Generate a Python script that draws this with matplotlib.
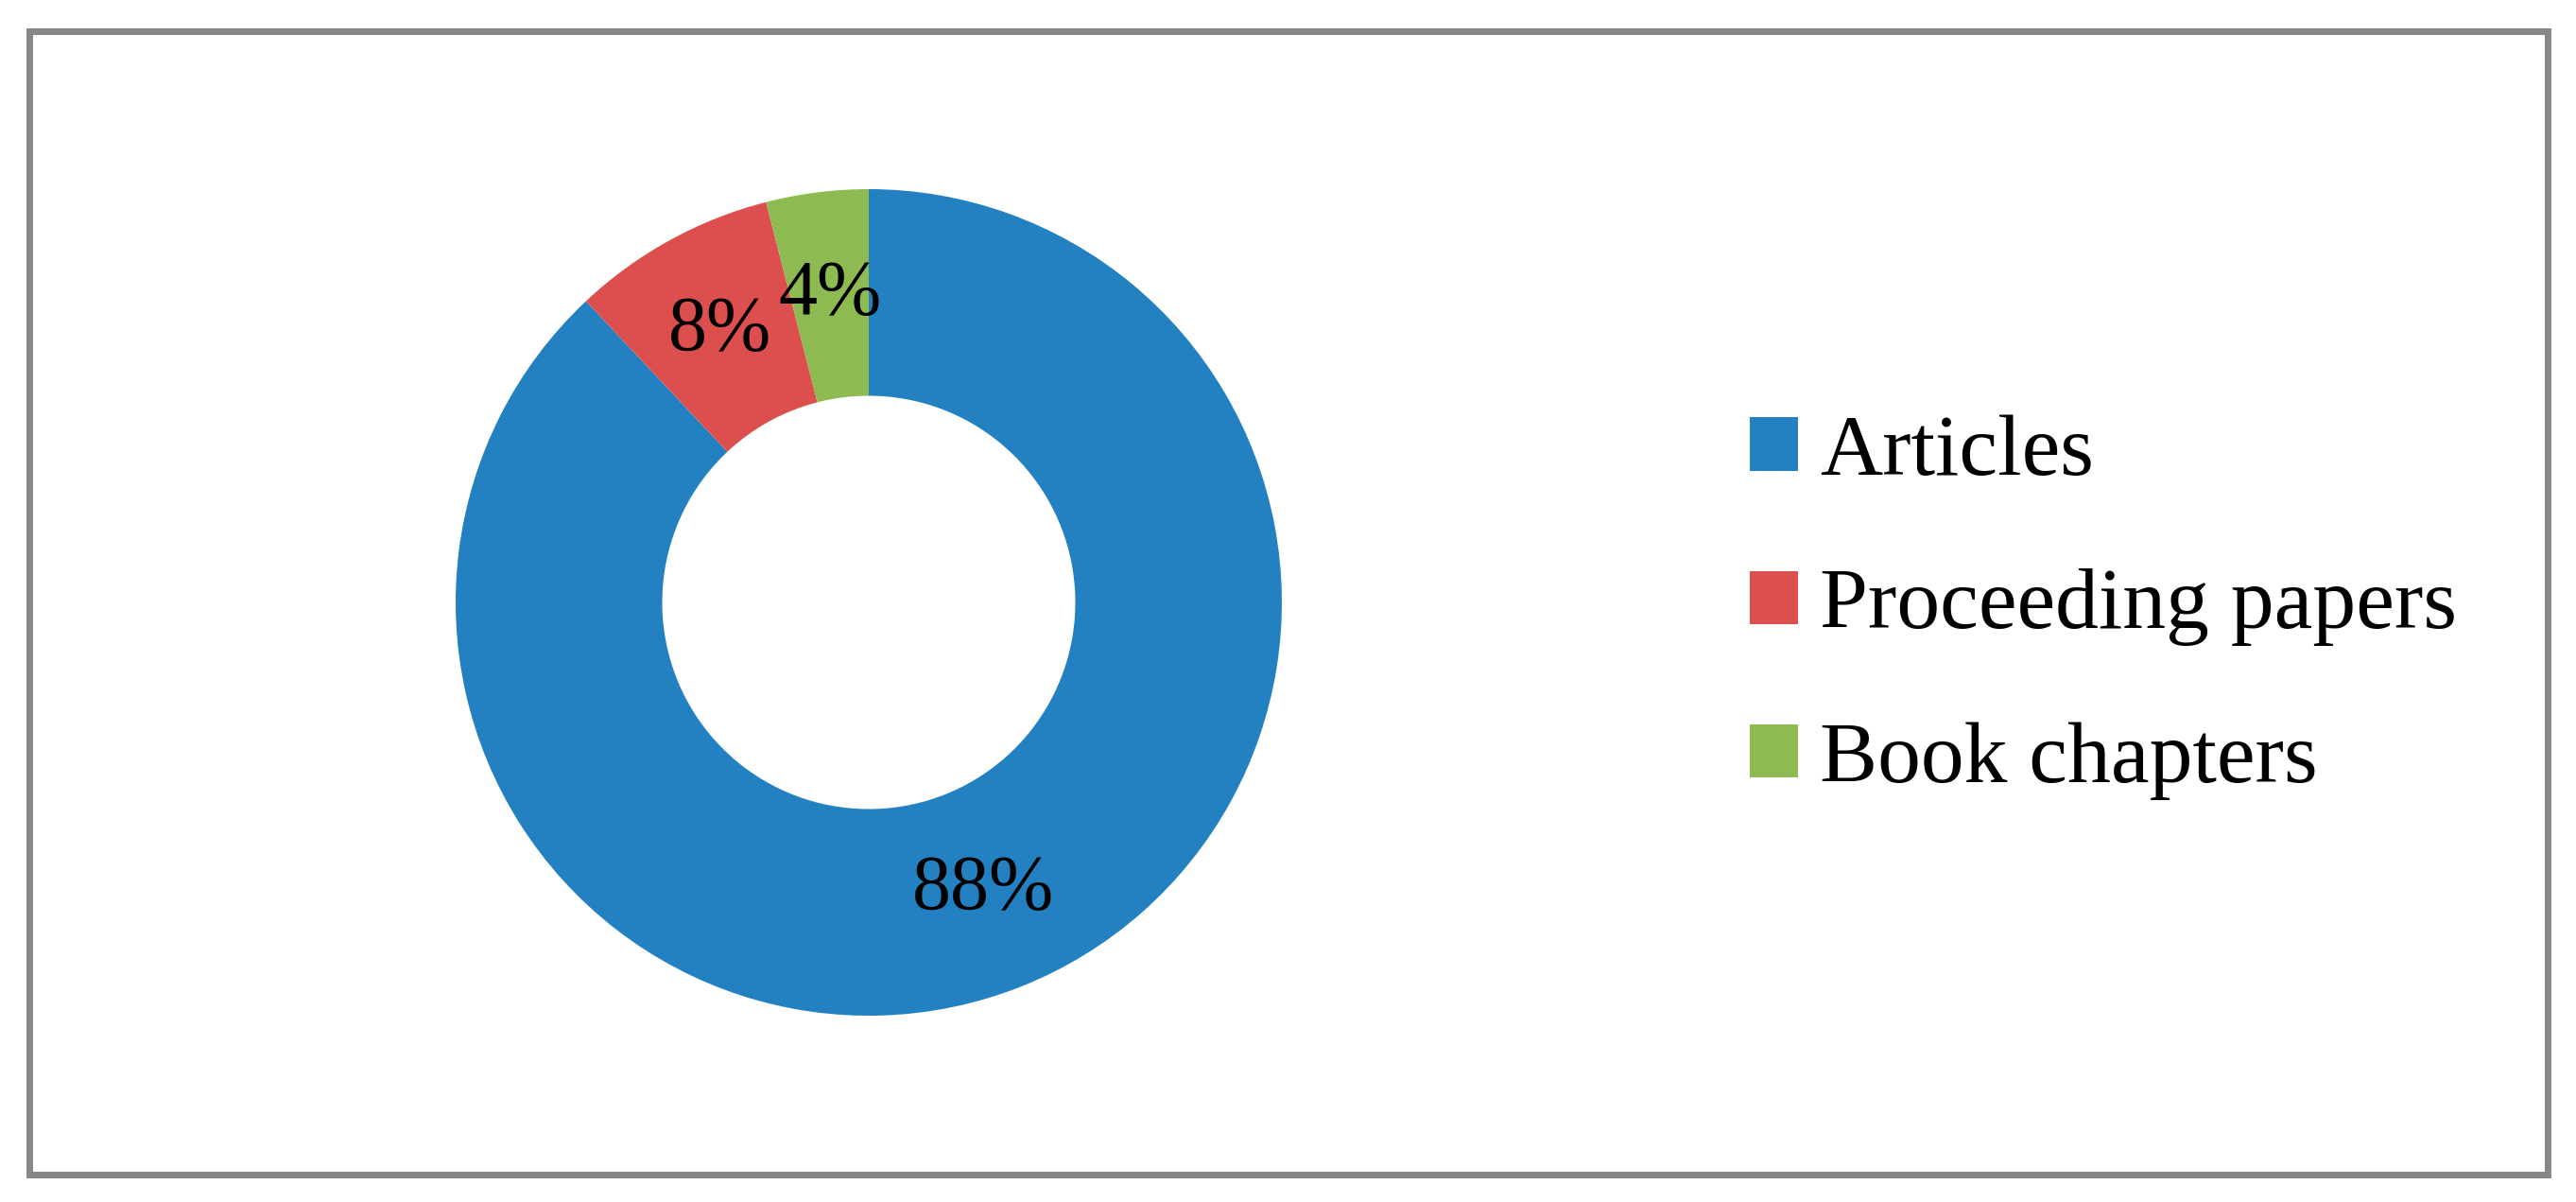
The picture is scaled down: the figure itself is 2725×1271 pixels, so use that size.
import matplotlib.pyplot as plt
from matplotlib.patches import Rectangle

# data
categories = ["Articles", "Proceeding papers", "Book chapters"]
shares = [88, 8, 4]
colors = ["#2481c1", "#dc4f4e", "#8dbb51"]

W, H, DPI = 2725, 1271, 100
plt.rcParams["font.family"] = ["Liberation Serif", "DejaVu Serif"]

fig = plt.figure(figsize=(W / DPI, H / DPI), dpi=DPI)

# donut: centre (919, 637) px from top-left, outer radius 437 px
cx, cy, r = 919, 637, 437
ax = fig.add_axes([(cx - r) / W, (H - cy - r) / H, 2 * r / W, 2 * r / H])
wedges, _, autotexts = ax.pie(
    shares, colors=colors, startangle=90, counterclock=False,
    radius=1.0, wedgeprops=dict(width=0.5, linewidth=0),
    autopct="%.0f%%", pctdistance=0.75,
    textprops=dict(fontsize=59, color="black"),
)
ax.set_xlim(-1, 1)
ax.set_ylim(-1, 1)
ax.set_aspect("equal")
ax.axis("off")

fs = 66
fpx = fs * DPI / 72
fig.legend(
    wedges, categories, loc="center left",
    bbox_to_anchor=(1851 / W, 1 - 642 / H),
    frameon=False, fontsize=fs,
    handlelength=51 / fpx, handleheight=52 / fpx,
    handletextpad=23 / fpx, labelspacing=0.87,
    borderpad=0, borderaxespad=0,
)

# grey outer frame
lw_px = 7
fig.add_artist(Rectangle(
    (30.5 / W, 29 / H), (2694.5 - 30.5) / W, (1238.5 - 29) / H,
    transform=fig.transFigure, fill=False,
    edgecolor="#878787", linewidth=lw_px * 72 / DPI,
))

fig.savefig("out.png", dpi=DPI, facecolor="white")
